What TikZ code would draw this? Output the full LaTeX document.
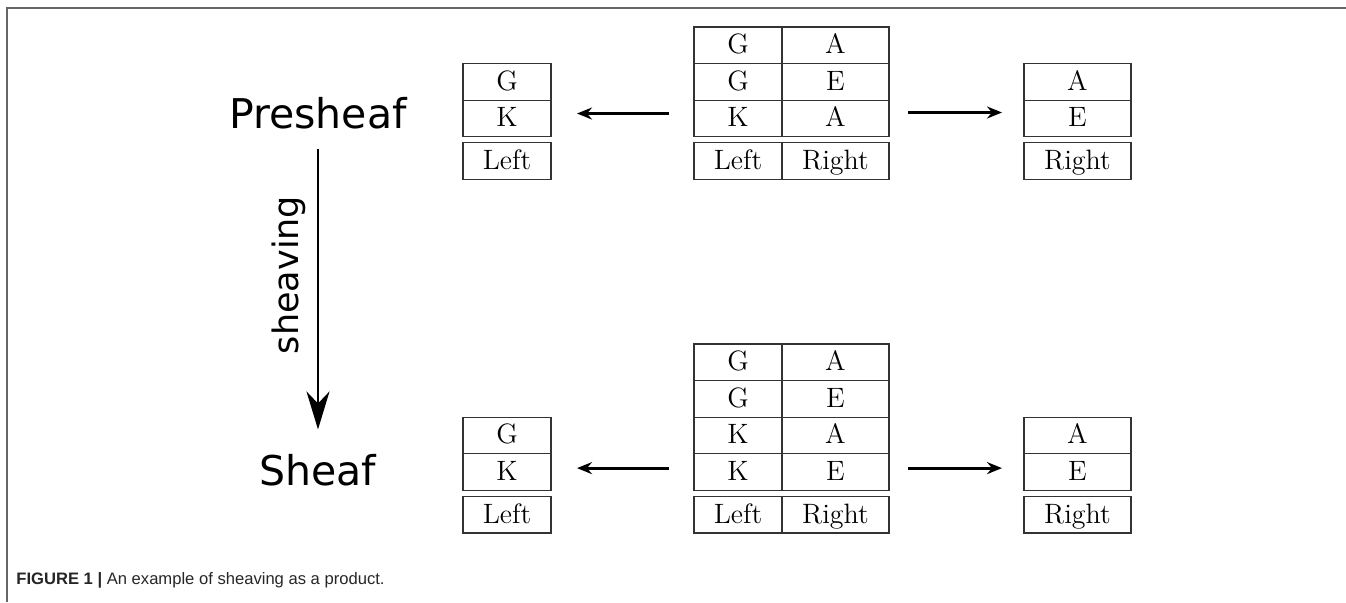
\documentclass[tikz,border=0pt]{standalone}
\usepackage{fontspec}
\newfontfamily\dejavu{DejaVu Sans}
\newfontfamily\capfont{Liberation Sans}
\usetikzlibrary{positioning,arrows.meta}
\begin{document}
\begin{tikzpicture}[x=0.5pt,y=-0.5pt,
    cell/.style={draw=black!80,line width=0.6pt,minimum height=18.3pt,inner sep=0pt,outer sep=0pt,
        text height=9.6pt,text depth=1.2pt,font=\fontsize{14}{16}\selectfont},
    narrow/.style={cell,minimum width=44pt},
    wide/.style={cell,minimum width=53.5pt},
    big/.style={inner sep=0pt,font=\dejavu\fontsize{20.5}{24}\selectfont},
    proj/.style={line width=1.4pt,-{Stealth[length=7.5pt,width=6pt,inset=2.5pt]}}]
    \useasboundingbox (0,0) rectangle (1346,602);
    \draw[black!60,line width=0.75pt] (7,602) -- (7,8) -- (1346,8);
    % presheaf
    \node[narrow,anchor=north west] (p1a) at (694,27) {G};
    \node[wide,right=0pt of p1a] (p1b) {A};
    \node[narrow,below=0pt of p1a] (p2a) {G};
    \node[wide,right=0pt of p2a] (p2b) {E};
    \node[narrow,below=0pt of p2a] (p3a) {K};
    \node[wide,right=0pt of p3a] (p3b) {A};
    \node[narrow,below=3pt of p3a] (phl) {Left};
    \node[wide,right=0pt of phl] (phr) {Right};
    \node[narrow,left=71.5pt of p2a] (pl1) {G};
    \node[narrow,below=0pt of pl1] (pl2) {K};
    \node[narrow,below=3pt of pl2] (plh) {Left};
    \node[wide,right=67.5pt of p2b] (pr1) {A};
    \node[wide,below=0pt of pr1] (pr2) {E};
    \node[wide,below=3pt of pr2] (prh) {Right};
    \draw[proj] ([shift={(-12.5pt,2.5pt)}]p3a.west) -- ([shift={(13pt,2.5pt)}]pl2.east);
    \draw[proj] ([shift={(9.5pt,3pt)}]p3b.east) -- ([shift={(-11pt,3pt)}]pr2.west);
    % sheaf
    \node[narrow,anchor=north west] (s1a) at (694,344) {G};
    \node[wide,right=0pt of s1a] (s1b) {A};
    \node[narrow,below=0pt of s1a] (s2a) {G};
    \node[wide,right=0pt of s2a] (s2b) {E};
    \node[narrow,below=0pt of s2a] (s3a) {K};
    \node[wide,right=0pt of s3a] (s3b) {A};
    \node[narrow,below=0pt of s3a] (s4a) {K};
    \node[wide,right=0pt of s4a] (s4b) {E};
    \node[narrow,below=3pt of s4a] (shl) {Left};
    \node[wide,right=0pt of shl] (shr) {Right};
    \node[narrow,left=71.5pt of s3a] (sl1) {G};
    \node[narrow,below=0pt of sl1] (sl2) {K};
    \node[narrow,below=3pt of sl2] (slh) {Left};
    \node[wide,right=67.5pt of s3b] (sr1) {A};
    \node[wide,below=0pt of sr1] (sr2) {E};
    \node[wide,below=3pt of sr2] (srh) {Right};
    \draw[proj] ([shift={(-12.5pt,2pt)}]s4a.west) -- ([shift={(13pt,2pt)}]sl2.east);
    \draw[proj] ([shift={(9.5pt,2pt)}]s4b.east) -- ([shift={(-11pt,2pt)}]sr2.west);
    \node[big,anchor=base] (pre) at (318,128) {Presheaf};
    \node[big,anchor=base] (she) at (318,485) {Sheaf};
    \draw[line width=1pt,-{Stealth[length=19pt,width=11.5pt,inset=6pt]},shorten <=10pt,shorten >=12pt] (pre.south) -- (she.north)
        node[pos=0.45,rotate=90,anchor=south,inner sep=5.5pt,font=\dejavu\fontsize{17.5}{20}\selectfont] (lab) {sheaving};
    \node[anchor=base west,inner sep=0pt,text=black!85,font=\capfont\fontsize{8.3}{10}\selectfont] (cap) at (16,584) {\textbf{FIGURE 1 |} An example of sheaving as a product.};
\end{tikzpicture}
\end{document}
